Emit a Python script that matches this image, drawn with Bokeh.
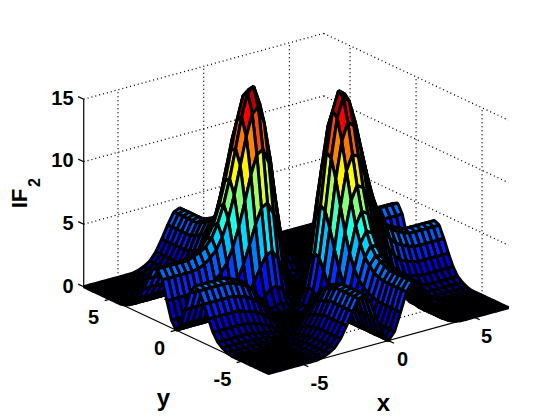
from bokeh.plotting import figure
from bokeh.models import Range1d
from bokeh.core.properties import value
from bokeh.embed import file_html
from bokeh.resources import INLINE

# grid nodes: -7 .. 7 in steps of 0.35, 41 nodes each way
xs = [-7 + 0.35 * k for k in range(41)]
ys = [-7 + 0.35 * k for k in range(41)]

far = [0,0,0,0,0,0, 0,0,0,.1,.3,.6,1.2,2.1,3.1,4.0,4.2,3.5,2.0,.6, 0, .6,2.0,3.5,4.2,4.0,3.1,2.1,1.2,.6,.3,.1,0,0,0, 0,0,0,0,0,0]

# estimated heights, rows for y = 0 upward; columns for x = -7 .. 7
z_rows = [
 far,
 [.6,.6,.6,.6,.6,.6, .7,.8,.9,1.2,1.6,2.4,3.5,4.9,6.4,7.6,7.9,6.9,4.8,2.4, .6, 0,.4,1.2,1.6,1.5,1.0,.4,.1,0,.1,.2,.4,.5,.5, .6,.6,.6,.6,.6,.6],
 [2,2,2,2,2,2, 2.2,2.3,2.6,3.0,3.7,4.8,6.3,8.2,10.2,11.7,12.0,10.8,8.1,4.8, 2.0, .4,0,.2,.4,.3,.1,0,.1,.4,.8,1.2,1.5,1.8,1.9, 2,2,2,2,2,2],
 [3.5,3.5,3.5,3.5,3.5,3.5, 3.6,3.8,4.2,4.7,5.6,6.9,8.7,10.9,13.1,14.8,15.2,13.8,10.8,6.9, 3.5, 1.2,.2,0,0,0,0,.2,.6,1.2,1.8,2.4,2.8,3.1,3.3, 3.5,3.5,3.5,3.5,3.5,3.5],
 [4.2,4.2,4.2,4.2,4.2,4.2, 4.4,4.6,4.9,5.5,6.5,7.9,9.8,12.1,14.5,16.3,16.7,15.2,12.0,7.9, 4.2, 1.6,.4,0,0,0,.1,.4,.9,1.6,2.4,3.0,3.5,3.8,4.0, 4.2,4.2,4.2,4.2,4.2,4.2],
 [4,4,4,4,4,4, 4.2,4.4,4.7,5.3,6.2,7.6,9.5,11.8,14.1,15.9,16.3,14.8,11.7,7.6, 4.0, 1.5,.3,0,0,0,.1,.3,.8,1.5,2.2,2.8,3.3,3.6,3.8, 4,4,4,4,4,4],
 [3.1,3.1,3.1,3.1,3.1,3.1, 3.3,3.5,3.8,4.3,5.1,6.4,8.1,10.3,12.5,14.1,14.5,13.1,10.2,6.4, 3.1, 1.0,.1,0,.1,.1,0,.1,.5,1.0,1.6,2.1,2.5,2.8,2.9, 3.1,3.1,3.1,3.1,3.1,3.1],
 [2.1,2.1,2.1,2.1,2.1,2.1, 2.2,2.4,2.6,3.1,3.8,4.9,6.4,8.3,10.3,11.8,12.1,10.9,8.2,4.9, 2.1, .4,0,.2,.4,.3,.1,0,.1,.5,.9,1.3,1.6,1.8,1.9, 2.1,2.1,2.1,2.1,2.1,2.1],
 [1.2,1.2,1.2,1.2,1.2,1.2, 1.3,1.4,1.6,2.0,2.5,3.4,4.7,6.4,8.1,9.5,9.8,8.7,6.3,3.5, 1.2, .1,.1,.6,.9,.8,.5,.1,0,.1,.3,.6,.8,1.0,1.1, 1.2,1.2,1.2,1.2,1.2,1.2],
 [.6,.6,.6,.6,.6,.6, .7,.7,.9,1.2,1.6,2.3,3.4,4.9,6.4,7.6,7.9,6.9,4.8,2.4, .6, 0,.4,1.2,1.6,1.5,1.0,.5,.1,0,.1,.2,.3,.4,.5, .6,.6,.6,.6,.6,.6],
 [.3,.3,.3,.3,.3,.3, .3,.4,.5,.7,1.0,1.6,2.5,3.8,5.1,6.2,6.5,5.6,3.7,1.6, .3, .1,.8,1.8,2.4,2.2,1.6,.9,.3,.1,0,0,.1,.2,.2, .3,.3,.3,.3,.3,.3],
 [.1,.1,.1,.1,.1,.1, .1,.2,.2,.4,.7,1.2,2.0,3.1,4.3,5.3,5.5,4.7,3.0,1.2, .1, .2,1.2,2.4,3.0,2.8,2.1,1.3,.6,.2,0,0,0,0,.1, .1,.1,.1,.1,.1,.1],
 [0,0,0,0,0,0, .1,.1,.1,.2,.5,.9,1.6,2.6,3.8,4.7,4.9,4.2,2.6,.9, 0, .4,1.5,2.8,3.5,3.3,2.5,1.6,.8,.3,.1,0,0,0,0, 0,0,0,0,0,0],
 [0,0,0,0,0,0, 0,0,.1,.2,.4,.7,1.4,2.4,3.5,4.4,4.6,3.8,2.3,.8, 0, .5,1.8,3.1,3.8,3.6,2.8,1.8,1.0,.4,.2,0,0,0,0, 0,0,0,0,0,0],
 [0,0,0,0,0,0, 0,0,.1,.1,.3,.7,1.3,2.2,3.3,4.2,4.4,3.6,2.2,.7, 0, .5,1.9,3.3,4.0,3.8,2.9,1.9,1.1,.5,.2,.1,0,0,0, 0,0,0,0,0,0],
 far, far, far, far, far, far,
]

x_ticks = [-5, 0, 5]
y_ticks = [-5, 0, 5]
z_ticks = [0, 5, 10, 15]
x_tick_labels = ["-5", "0", "5"]
y_tick_labels = ["5", "0", "-5"]
z_tick_labels = ["0", "5", "10", "15"]

Z = [r[::-1] for r in z_rows[:0:-1]] + z_rows
z_max = 16.7
LIM = 7.0
Z_TOP = 15


def proj(x, y, z):
    return (295.6 + 17.14 * x - 13.2 * y, 296.7 - 4.7 * x - 6.2 * y - 12.5 * z)


def jet(t):
    t = max(0.0, min(1.0, t))
    def c(v):
        return int(round(255 * max(0.0, min(1.0, v))))
    r = 1.5 - abs(4 * t - 3)
    g = 1.5 - abs(4 * t - 2)
    b = 1.5 - abs(4 * t - 1)
    return "#%02x%02x%02x" % (c(r), c(g), c(b))


p = figure(width=552, height=418, x_range=Range1d(0, 552), y_range=Range1d(418, 0),
           output_backend="svg", toolbar_location=None, min_border=0)
p.axis.visible = False
p.grid.visible = False
p.outline_line_color = None
p.background_fill_color = "white"
p.border_fill_color = "white"

# dotted grid
gx0, gy0, gx1, gy1 = [], [], [], []


def add(seg, a, b):
    pa, pb = proj(*a), proj(*b)
    seg[0].append(pa[0]); seg[1].append(pa[1]); seg[2].append(pb[0]); seg[3].append(pb[1])


grid = (gx0, gy0, gx1, gy1)
for z in z_ticks:
    add(grid, (-LIM, LIM, z), (LIM, LIM, z))
    add(grid, (LIM, LIM, z), (LIM, -LIM, z))
for x in x_ticks:
    add(grid, (x, LIM, 0), (x, LIM, Z_TOP))
    add(grid, (x, -LIM, 0), (x, LIM, 0))
for y in y_ticks:
    add(grid, (LIM, y, 0), (LIM, y, Z_TOP))
    add(grid, (-LIM, y, 0), (LIM, y, 0))
p.segment(gx0, gy0, gx1, gy1, line_color="black", line_width=1.3, line_dash="1 3")

# solid axes and ticks
ax = ([], [], [], [])
add(ax, (-LIM, LIM, 0), (-LIM, LIM, Z_TOP))
add(ax, (-LIM, LIM, 0), (-LIM, -LIM, 0))
add(ax, (-LIM, -LIM, 0), (LIM, -LIM, 0))
for z in z_ticks:
    add(ax, (-LIM, LIM, z), (-LIM, LIM + 0.42, z))
for x in x_ticks:
    add(ax, (x, -LIM, 0), (x, -LIM - 0.42, 0))
for y in y_ticks:
    add(ax, (-LIM, y, 0), (-LIM - 0.32, y, 0))
p.segment(ax[0], ax[1], ax[2], ax[3], line_color="black", line_width=1.2)

# surface facets, back to front
cells = []
for j in range(len(ys) - 1):
    for i in range(len(xs) - 1):
        xc = (xs[i] + xs[i + 1]) / 2
        yc = (ys[j] + ys[j + 1]) / 2
        cells.append((4.7 * xc + 6.2 * yc, i, j))
cells.sort(key=lambda c: -c[0])
fx, fy, fc = [], [], []
for _, i, j in cells:
    corners = [(i, j), (i + 1, j), (i + 1, j + 1), (i, j + 1)]
    pts = [proj(xs[a], ys[b], Z[b][a]) for a, b in corners]
    fx.append([q[0] for q in pts])
    fy.append([q[1] for q in pts])
    fc.append(jet(sum(Z[b][a] for a, b in corners) / 4 / z_max))
p.patches(fx, fy, fill_color=fc, line_color="black", line_width=3)

# texts
FONT = value("Liberation Sans")


def label(x, y, s, size=20, angle=0, align="center"):
    p.text([x], [y], text=[s], text_font=FONT, text_font_size=f"{size}px", text_font_style="bold",
           text_color="black", text_align=align, text_baseline="middle", angle=angle)


for v, s, py in zip(z_ticks, z_tick_labels, [285, 222, 159, 97]):
    label(73, py, s, align="right")
for s, sx, sy in zip(y_tick_labels, [93, 159, 222], [316, 347, 378]):
    label(sx, sy, s)
for s, sx, sy in zip(x_tick_labels, [319, 402, 486], [382, 358, 335]):
    label(sx, sy, s)
label(383, 402, "x", size=24)
label(163, 397, "y", size=24)
label(19, 198, "IF", size=22, angle=1.5708)
label(33, 182, "2", size=16, angle=1.5708)

open("out.html", "w").write(file_html(p, INLINE))
